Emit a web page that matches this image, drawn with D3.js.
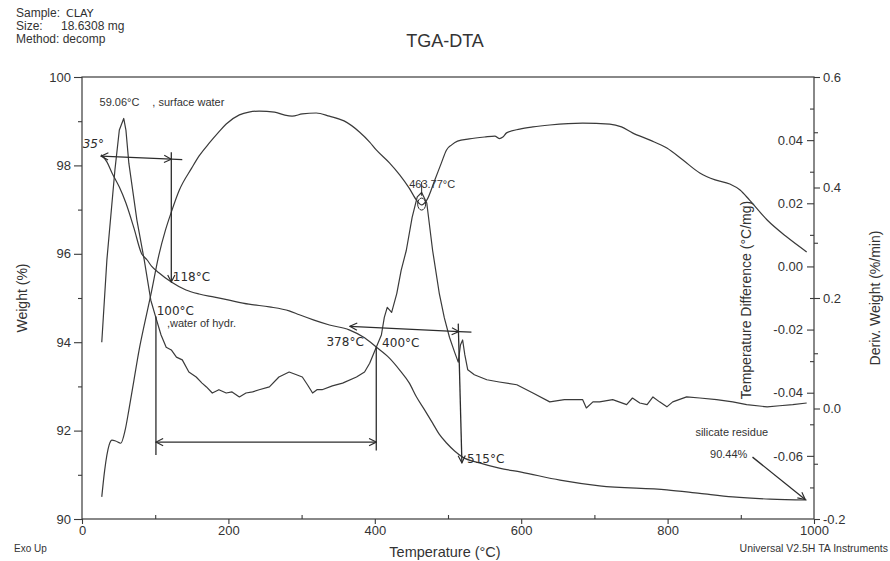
<!DOCTYPE html>
<html>
<head>
<meta charset="utf-8">
<script src="https://cdn.jsdelivr.net/npm/d3@7"></script>
<style>
  body { margin: 0; background: #fff; }
  text { font-family: "Liberation Sans", Arial, sans-serif; fill: #333; }
  .hand { font-family: "DejaVu Sans", sans-serif; fill: #2c2c2c; }
</style>
</head>
<body>
<script>
// ticks
const tempTicks = [0, 200, 400, 600, 800, 1000];
const tempMinor = [100, 300, 500, 700, 900];
const weightTicks = [90, 92, 94, 96, 98, 100];
const weightMinor = [91, 93, 95, 97, 99];
const dtaTicks = [-0.06, -0.04, -0.02, 0.00, 0.02, 0.04];
const dtaMinor = [-0.07, -0.05, -0.03, -0.01, 0.01, 0.03, 0.05];
const dtgTicks = [-0.2, 0.0, 0.2, 0.4, 0.6];
const dtgMinor = [-0.1, 0.1, 0.3, 0.5];

// weight (%) vs temperature (°C)
const weightData = [[26,98.24],[34,98.08],[41,97.83],[51,97.51],[60,97.15],[71,96.58],[81,96.02],[89,95.86],[95,95.72],[105,95.57],[122,95.36],[142,95.18],[160,95.09],[181,95.02],[201,94.95],[228,94.86],[256,94.80],[283,94.71],[297,94.62],[317,94.50],[338,94.39],[365,94.28],[386,94.10],[402,93.89],[420,93.64],[434,93.37],[447,93.08],[457,92.76],[468,92.47],[479,92.17],[488,91.92],[498,91.72],[509,91.54],[520,91.40],[543,91.27],[570,91.15],[600,91.06],[653,90.88],[707,90.75],[799,90.66],[844,90.58],[889,90.50],[940,90.45],[990,90.43]];

// temperature difference (°C/mg)
const dtaData = [[27,-0.073],[31,-0.0645],[37,-0.0566],[41,-0.055],[46,-0.0553],[53,-0.056],[59,-0.0518],[64,-0.0455],[71,-0.036],[78,-0.0265],[85,-0.0186],[94,-0.009],[105,0.0036],[114,0.0115],[122,0.0172],[133,0.0242],[150,0.0312],[160,0.035],[174,0.0391],[187,0.0426],[197,0.0451],[215,0.048],[228,0.0489],[242,0.0492],[263,0.0489],[276,0.048],[287,0.0476],[301,0.0483],[320,0.0486],[338,0.0476],[358,0.0461],[379,0.0426],[393,0.0394],[402,0.0369],[420,0.0328],[434,0.029],[447,0.0248],[457,0.021],[464,0.0195],[471,0.021],[482,0.0274],[491,0.0328],[498,0.0369],[505,0.0385],[513,0.0397],[529,0.0404],[550,0.041],[564,0.0413],[570,0.0405],[575,0.041],[580,0.0423],[598,0.0435],[616,0.0442],[639,0.0448],[684,0.0454],[721,0.0451],[737,0.0442],[752,0.0423],[776,0.04],[799,0.0375],[821,0.0337],[844,0.0296],[865,0.0274],[885,0.0261],[899,0.0242],[912,0.021],[936,0.0147],[963,0.0093],[990,0.0046]];

// deriv. weight (%/min)
const dtgData = [[27,0.12],[34,0.269],[45,0.432],[51,0.504],[57,0.525],[60,0.504],[64,0.444],[75,0.341],[85,0.269],[94,0.196],[101,0.164],[108,0.133],[115,0.111],[122,0.106],[129,0.093],[137,0.088],[146,0.066],[156,0.057],[164,0.046],[170,0.039],[178,0.028],[187,0.034],[197,0.028],[205,0.030],[215,0.021],[224,0.028],[233,0.030],[242,0.034],[256,0.039],[269,0.057],[283,0.066],[293,0.061],[301,0.057],[308,0.043],[315,0.028],[321,0.034],[328,0.034],[342,0.041],[356,0.046],[375,0.057],[386,0.066],[393,0.082],[402,0.111],[409,0.133],[413,0.165],[417,0.183],[423,0.174],[430,0.208],[436,0.250],[443,0.286],[451,0.346],[458,0.383],[464,0.391],[471,0.372],[479,0.286],[488,0.209],[495,0.164],[502,0.129],[509,0.102],[514,0.084],[517,0.115],[520,0.124],[523,0.097],[527,0.070],[536,0.061],[553,0.052],[570,0.048],[594,0.043],[616,0.028],[639,0.012],[659,0.016],[684,0.016],[689,0.001],[698,0.012],[707,0.012],[725,0.016],[744,0.007],[752,0.019],[762,0.010],[772,0.007],[780,0.021],[789,0.012],[799,0.003],[807,0.012],[826,0.021],[844,0.019],[867,0.016],[889,0.012],[908,0.007],[936,0.003],[953,0.005],[971,0.007],[990,0.010]];

const dims = { width: 890, height: 561 };
const plot = { left: 82, right: 814, top: 77, bottom: 519 };
const ink = "#3a3a3a";

const svg = d3.select("body").append("svg")
    .attr("width", dims.width)
    .attr("height", dims.height);

const x = d3.scaleLinear().domain([0, 1000]).range([plot.left, plot.right]);
const yW = d3.scaleLinear().domain([90, 100]).range([plot.bottom, plot.top]);
const yDta = d3.scaleLinear().domain([-0.08, 0.06]).range([plot.bottom, plot.top]);
const yDtg = d3.scaleLinear().domain([-0.2, 0.6]).range([plot.bottom, plot.top]);

const hy = s => s.replace("\u2212", "-");

// arrow marker
svg.append("defs").append("marker")
    .attr("id", "arr")
    .attr("viewBox", "0 0 10 10")
    .attr("refX", 9).attr("refY", 5)
    .attr("markerWidth", 9).attr("markerHeight", 9)
    .attr("markerUnits", "userSpaceOnUse")
    .attr("orient", "auto-start-reverse")
  .append("path")
    .attr("d", "M1,1 L9,5 L1,9")
    .attr("fill", "none")
    .attr("stroke", "#2c2c2c")
    .attr("stroke-width", 1.3);

// header
const head = svg.append("g").attr("font-size", 12);
head.append("text").attr("x", 16).attr("y", 17).text("Sample:");
head.append("text").attr("class", "hand").attr("x", 66).attr("y", 17).attr("font-size", 11).text("CLAY");
head.append("text").attr("x", 16).attr("y", 30).text("Size:");
head.append("text").attr("x", 61).attr("y", 30).text("18.6308 mg");
head.append("text").attr("x", 16).attr("y", 43).text("Method: decomp");

svg.append("text").attr("x", 445).attr("y", 47).attr("text-anchor", "middle")
    .attr("font-size", 18).text("TGA-DTA");

// frame
svg.append("rect")
    .attr("x", plot.left).attr("y", plot.top)
    .attr("width", plot.right - plot.left).attr("height", plot.bottom - plot.top)
    .attr("fill", "none").attr("stroke", ink).attr("stroke-width", 1.2);

function styleAxis(g) {
  g.attr("font-size", 13).attr("font-family", "Liberation Sans, Arial, sans-serif");
  g.select(".domain").remove();
  g.selectAll("line").attr("stroke", ink).attr("stroke-width", 1.1);
  g.selectAll("text").attr("fill", "#333");
}

// bottom
svg.append("g").attr("transform", `translate(0,${plot.bottom})`)
    .call(d3.axisBottom(x).tickValues(tempTicks).tickSize(5).tickPadding(2).tickFormat(d3.format("d")))
    .call(styleAxis);
svg.append("g").attr("transform", `translate(0,${plot.bottom})`)
    .call(d3.axisBottom(x).tickValues(tempMinor).tickSize(-4).tickFormat(""))
    .call(styleAxis);

// left
svg.append("g").attr("transform", `translate(${plot.left},0)`)
    .call(d3.axisLeft(yW).tickValues(weightTicks).tickSize(8).tickPadding(3).tickFormat(d3.format("d")))
    .call(styleAxis);
svg.append("g").attr("transform", `translate(${plot.left},0)`)
    .call(d3.axisLeft(yW).tickValues(weightMinor).tickSize(4).tickFormat(""))
    .call(styleAxis);

// right inner (temperature difference)
svg.append("g").attr("transform", `translate(${plot.right},0)`)
    .call(d3.axisLeft(yDta).tickValues(dtaTicks).tickSize(7).tickPadding(4).tickFormat(d => hy(d3.format(".2f")(d))))
    .call(styleAxis);
svg.append("g").attr("transform", `translate(${plot.right},0)`)
    .call(d3.axisLeft(yDta).tickValues(dtaMinor).tickSize(4).tickFormat(""))
    .call(styleAxis);

// right outer (deriv. weight)
svg.append("g").attr("transform", `translate(${plot.right},0)`)
    .call(d3.axisRight(yDtg).tickValues(dtgTicks).tickSize(6).tickPadding(3).tickFormat(d => hy(d3.format(".1f")(d))))
    .call(styleAxis);
svg.append("g").attr("transform", `translate(${plot.right},0)`)
    .call(d3.axisRight(yDtg).tickValues(dtgMinor).tickSize(4).tickFormat(""))
    .call(styleAxis);

// axis titles
svg.append("text").attr("transform", "translate(27,298) rotate(-90)")
    .attr("text-anchor", "middle").attr("font-size", 14).text("Weight (%)");
svg.append("text").attr("transform", "translate(751,300) rotate(-90)")
    .attr("text-anchor", "middle").attr("font-size", 14).text("Temperature Difference (°C/mg)");
svg.append("text").attr("transform", "translate(880,298) rotate(-90)")
    .attr("text-anchor", "middle").attr("font-size", 14).text("Deriv. Weight (%/min)");
svg.append("text").attr("x", 445).attr("y", 557)
    .attr("text-anchor", "middle").attr("font-size", 14.5).text("Temperature (°C)");
svg.append("text").attr("x", 14).attr("y", 552).attr("font-size", 10).text("Exo Up");
svg.append("text").attr("x", 888).attr("y", 552).attr("text-anchor", "end")
    .attr("font-size", 10.5).text("Universal V2.5H TA Instruments");

// curves
const curves = svg.append("g").attr("fill", "none").attr("stroke", ink)
    .attr("stroke-width", 1.2).attr("stroke-linejoin", "round");

curves.append("path").datum(weightData)
    .attr("d", d3.line().x(d => x(d[0])).y(d => yW(d[1])).curve(d3.curveMonotoneX));
curves.append("path").datum(dtaData)
    .attr("d", d3.line().x(d => x(d[0])).y(d => yDta(d[1])).curve(d3.curveMonotoneX));
curves.append("path").datum(dtgData)
    .attr("d", d3.line().x(d => x(d[0])).y(d => yDtg(d[1])));

// hand-drawn markings (in weight units)
const marks = svg.append("g").attr("fill", "none").attr("stroke", "#2c2c2c").attr("stroke-width", 1.3);
function seg(t1, w1, t2, w2, start, end) {
  const l = marks.append("line")
      .attr("x1", x(t1)).attr("y1", yW(w1))
      .attr("x2", x(t2)).attr("y2", yW(w2));
  if (start) l.attr("marker-start", "url(#arr)");
  if (end) l.attr("marker-end", "url(#arr)");
}
seg(26, 98.21, 122, 98.14, true, true);
seg(122, 98.14, 137, 98.13);
seg(122, 98.30, 122, 95.36, false, true);
seg(101, 94.58, 101, 91.45);
seg(101, 91.74, 402, 91.74, true, true);
seg(402, 93.89, 402, 91.55);
seg(366, 94.36, 515, 94.24, true, true);
seg(515, 94.24, 532, 94.23);
seg(514, 94.42, 519, 91.27, false, true);
seg(916, 91.40, 988, 90.44, false, true);

// circle at the 463.77 peak
marks.append("ellipse").attr("cx", x(464)).attr("cy", yDtg(0.37))
    .attr("rx", 4).attr("ry", 6).attr("stroke-width", 1);
marks.append("line").attr("x1", x(464)).attr("x2", x(464))
    .attr("y1", yDtg(0.41)).attr("y2", yDtg(0.385)).attr("stroke-width", 1);

// labels
const typed = [
  ["59.06°C", 24, 99.35],
  [", surface water", 96, 99.35],
  [",water of hydr.", 116, 94.35],
  ["463.77°C", 447, 97.5],
  ["silicate residue", 838, 91.88],
  ["90.44%", 858, 91.38]
];
svg.append("g").attr("font-size", 11).selectAll("text").data(typed).join("text")
    .attr("x", d => x(d[1])).attr("y", d => yW(d[2])).text(d => d[0]);

const hand = [
  ["35°", 1, 98.4],
  ["118°C", 124, 95.38],
  ["100°C", 102, 94.62],
  ["378°C", 334, 93.92],
  ["400°C", 410, 93.9],
  ["515°C", 526, 91.27]
];
svg.append("g").attr("font-size", 12).selectAll("text").data(hand).join("text")
    .attr("class", "hand")
    .attr("font-style", (d, i) => i === 0 ? "italic" : "normal")
    .attr("x", d => x(d[1])).attr("y", d => yW(d[2])).text(d => d[0]);
</script>
</body>
</html>
